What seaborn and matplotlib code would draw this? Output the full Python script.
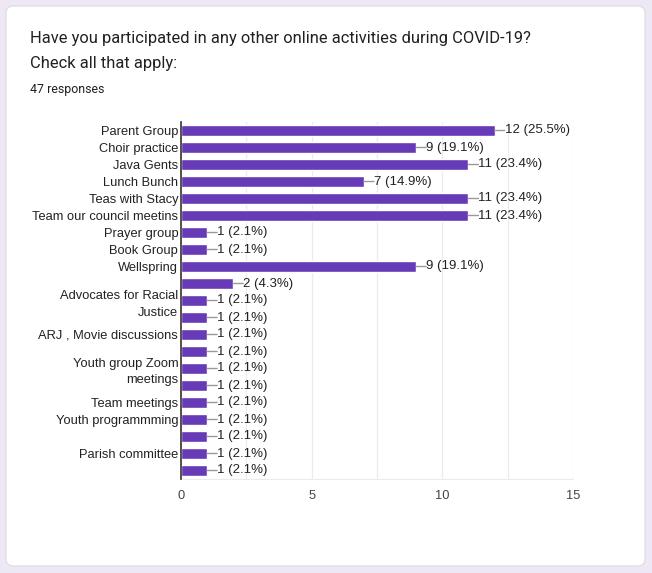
import numpy as np
import pandas as pd
import matplotlib
matplotlib.use('Agg')
import matplotlib.pyplot as plt
import seaborn as sns
from matplotlib.patches import FancyBboxPatch

# ── Data ───────────────────────────────────────────────────
labels = ['Parent Group', 'Choir practice', 'Java Gents', 'Lunch Bunch',
          'Teas with Stacy', 'Team our council meetins', 'Prayer group',
          'Book Group', 'Wellspring', '', 'Advocates for Racial\nJustice', '',
          'ARJ , Movie discussions', '', 'Youth group Zoom\nmeetings', '',
          'Team meetings', 'Youth programmming', '', 'Parish committee', '']
counts = [12, 9, 11, 7, 11, 11, 1, 1, 9, 2, 1, 1, 1, 1, 1, 1, 1, 1, 1, 1, 1]
total_responses = 47
x_ticks = [0, 5, 10, 15]

df = pd.DataFrame({'row': [str(i) for i in range(len(counts))], 'count': counts})
df['pct'] = df['count'] / total_responses * 100

# ── Figure ─────────────────────────────────────────────────
sns.set_style('white')
plt.rcParams['font.family'] = ['Liberation Sans', 'DejaVu Sans']

W, H = 652, 573
fig = plt.figure(figsize=(W / 100, H / 100), dpi=100)
fig.patch.set_facecolor('#ede7f6')

# white card
card = FancyBboxPatch((6 / W, 7 / H), 639 / W, 560 / H,
                      boxstyle='round,pad=0,rounding_size=0.012',
                      transform=fig.transFigure, facecolor='white',
                      edgecolor='#dadce0', linewidth=0.8, zorder=-10)
fig.patches.append(card)

fig.text(30 / W, 1 - 38 / H, 'Have you participated in any other online activities during COVID-19?',
         fontsize=11.9, family='Roboto', color='#202124', va='center')
fig.text(30 / W, 1 - 63 / H, 'Check all that apply:',
         fontsize=11.9, family='Roboto', color='#202124', va='center')
fig.text(30 / W, 1 - 89 / H, f'{total_responses} responses',
         fontsize=8.9, family='Roboto', color='#202124', va='center')

ax = fig.add_axes([181 / W, 1 - 479 / H, 392 / W, 357 / H])
ax.set_zorder(5)
ax.set_facecolor('none')
sns.barplot(data=df, x='count', y='row', orient='h', color='#673ab7',
            saturation=1, width=0.66, ax=ax, zorder=3)

ax.set_xlim(0, 15)
ax.set_ylim(len(counts) - 0.5, -0.5)
ax.set_xticks(x_ticks)
ax.set_xticks(np.arange(0, 15.1, 2.5), minor=True)
ax.grid(axis='x', which='both', color='#ebebeb', linewidth=0.9, zorder=0)
ax.set_axisbelow(True)
ax.set_yticks(range(len(labels)))
ax.set_yticklabels(labels, fontsize=9.3, color='#222222')
for t in ax.get_yticklabels():
    t.set_multialignment('right')
    t.set_linespacing(1.5)
ax.tick_params(axis='x', labelsize=9.3, colors='#444444', length=0, pad=8)
ax.tick_params(axis='y', length=0, pad=2)
ax.tick_params(axis='x', which='minor', length=0)
ax.set_xlabel('')
ax.set_ylabel('')

for s in ['top', 'right']:
    ax.spines[s].set_visible(False)
ax.spines['bottom'].set_color('#ebebeb')
ax.spines['left'].set_color('#333333')
ax.spines['left'].set_linewidth(1.2)
ax.spines['left'].set_zorder(5)

for i, (c, p) in enumerate(zip(df['count'], df['pct'])):
    ax.annotate(f'{c} ({p:.1f}%)', xy=(c, i), xytext=(10, 0),
                textcoords='offset pixels', ha='left', va='center',
                fontsize=9.5, color='#222222',
                arrowprops=dict(arrowstyle='-', color='#999999', lw=1,
                                shrinkA=0, shrinkB=0, patchA=None,
                                relpos=(0, 0.5)), zorder=4)

plt.savefig('out.png', dpi=100)
